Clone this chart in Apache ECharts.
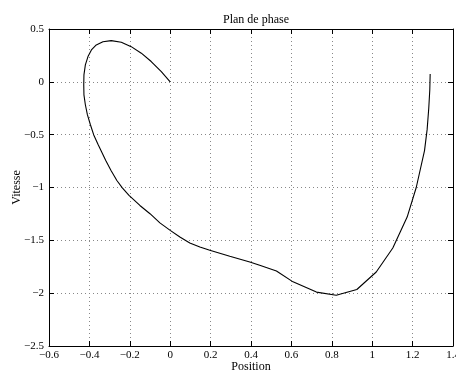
<!DOCTYPE html>
<html>
<head>
<meta charset="utf-8">
<script src="https://cdn.jsdelivr.net/npm/echarts@6/dist/echarts.min.js"></script>
<style>html,body{margin:0;padding:0;background:#fff;}#c{width:456px;height:377px;}</style>
</head>
<body>
<div id="c"></div>
<script>
const titleText = 'Plan de phase';
const xLabel = 'Position';
const yLabel = 'Vitesse';
const positionValues = [0, -0.044, -0.094, -0.143, -0.193, -0.242, -0.292, -0.333, -0.366, -0.39, -0.407, -0.42, -0.427, -0.428, -0.427, -0.42, -0.41, -0.395, -0.379, -0.357, -0.319, -0.293, -0.264, -0.237, -0.204, -0.15, -0.1, -0.051, 0, 0.048, 0.097, 0.147, 0.196, 0.295, 0.394, 0.443, 0.526, 0.608, 0.724, 0.822, 0.924, 1.02, 1.102, 1.173, 1.218, 1.259, 1.272, 1.28, 1.285, 1.287];
const vitesseValues = [0, 0.097, 0.192, 0.271, 0.333, 0.375, 0.39, 0.38, 0.349, 0.302, 0.239, 0.16, 0.066, -0.028, -0.123, -0.217, -0.311, -0.406, -0.5, -0.594, -0.745, -0.84, -0.934, -1.003, -1.075, -1.17, -1.248, -1.335, -1.406, -1.469, -1.525, -1.563, -1.594, -1.65, -1.705, -1.736, -1.79, -1.893, -1.99, -2.019, -1.965, -1.8, -1.572, -1.28, -1.0, -0.651, -0.45, -0.25, -0.08, 0.075];
const xTicks = {min: -0.6, max: 1.4, step: 0.2};
const yTicks = {min: -2.5, max: 0.5, step: 0.5};

const font = 'Liberation Serif';
const fmt = v => String(+v.toFixed(2)).replace('-', '\u2212');
const chart = echarts.init(document.getElementById('c'), null, {renderer: 'canvas'});
const axisCommon = {
  axisLine: {show: true, onZero: false, lineStyle: {color: '#000', width: 1}},
  axisTick: {show: true, inside: true, length: 5, lineStyle: {color: '#000'}},
};
chart.setOption({
  animation: false,
  backgroundColor: '#fff',
  title: {text: titleText, left: 251, top: 9, textAlign: 'center',
    textStyle: {fontFamily: font, fontSize: 12, fontWeight: 'normal', color: '#000'}},
  grid: {left: 49, right: 3, top: 29, bottom: 31, containLabel: false, outerBoundsMode: 'none'},
  xAxis: [
    Object.assign({type: 'value', min: xTicks.min, max: xTicks.max, interval: xTicks.step,
      name: xLabel, nameLocation: 'middle', nameGap: 15, nameMoveOverlap: false,
      nameTextStyle: {fontFamily: font, fontSize: 12, color: '#000', verticalAlign: 'top'},
      axisLabel: {formatter: fmt, fontFamily: font, fontSize: 11, color: '#000', margin: 4, hideOverlap: false},
      splitLine: {show: true, lineStyle: {color: '#888', type: [1, 3], width: 1}}}, axisCommon),
    Object.assign({type: 'value', position: 'top', min: xTicks.min, max: xTicks.max, interval: xTicks.step,
      axisLabel: {show: false}, splitLine: {show: false}}, axisCommon)
  ],
  yAxis: [
    Object.assign({type: 'value', min: yTicks.min, max: yTicks.max, interval: yTicks.step,
      name: yLabel, nameLocation: 'middle', nameGap: 26, nameMoveOverlap: false,
      nameTextStyle: {fontFamily: font, fontSize: 12, color: '#000'},
      axisLabel: {formatter: fmt, fontFamily: font, fontSize: 11, color: '#000', margin: 5},
      splitLine: {show: true, lineStyle: {color: '#888', type: [1, 3], width: 1}}}, axisCommon),
    Object.assign({type: 'value', position: 'right', min: yTicks.min, max: yTicks.max, interval: yTicks.step,
      axisLabel: {show: false}, splitLine: {show: false}}, axisCommon)
  ],
  series: [{
    type: 'line',
    data: positionValues.map((x, i) => [x, vitesseValues[i]]),
    showSymbol: false,
    smooth: false,
    lineStyle: {color: '#000', width: 1.1},
    xAxisIndex: 0, yAxisIndex: 0
  }]
});
</script>
</body>
</html>
